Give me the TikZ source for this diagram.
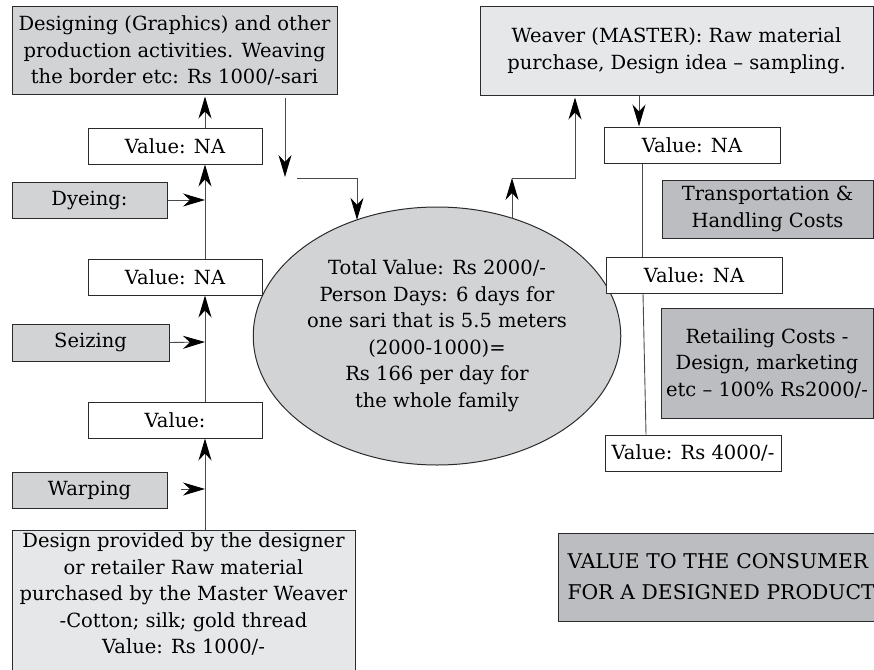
\documentclass[tikz,border=0pt]{standalone}
\usepackage{fontspec}
\setmainfont{DejaVu Serif}
\usetikzlibrary{arrows.meta,shapes.geometric}
\definecolor{boxline}{HTML}{2B2B2B}
\definecolor{connc}{HTML}{4A4A4A}
\definecolor{gmid}{HTML}{D2D3D5}
\definecolor{glight}{HTML}{E6E7E8}
\definecolor{gdark}{HTML}{BCBDC0}
\begin{document}
\begin{tikzpicture}[x=1pt,y=-1pt,
  font=\fontsize{19.5}{26.5}\selectfont,
  box/.style={draw=boxline, line width=1pt, inner sep=0pt, align=center, text=black},
  vbox/.style={box, fill=white, minimum width=174pt, minimum height=36pt},
  midbox/.style={box, fill=gmid},
  lightbox/.style={box, fill=glight},
  darkbox/.style={box, fill=gdark},
  conn/.style={draw=connc, line width=0.9pt},
  arr/.style={conn, -{Stealth[length=22pt,width=13pt,inset=7pt,color=black]}}
]
\useasboundingbox (0,0) rectangle (874,669);
\clip (0,0) rectangle (874,669);

% left column
\node[midbox, minimum width=325pt, minimum height=87pt] (design) at (174.5,50.5)
  {Designing (Graphics) and other\\production activities. Weaving\\the border etc: Rs 1000/-sari};
\node[vbox] (vna1) at (175,146) {Value: NA};
\node[midbox, minimum width=155pt, minimum height=36pt] (dye) at (89.5,200) {Dyeing:};
\node[vbox] (vna2) at (175,277) {Value: NA};
\node[midbox, minimum width=157pt, minimum height=37pt] (seiz) at (90.5,342.5) {Seizing};
\node[vbox] (val) at (175,420) {Value:};
\node[midbox, minimum width=155pt, minimum height=36pt] (warp) at (89.5,490) {Warping};
\draw[draw=boxline, line width=1pt, fill=glight] (12,530) rectangle (355,700);
\node[align=center, inner sep=0pt, text=black] (raw) at (183.5,594)
  {Design provided by the designer\\or retailer Raw material\\purchased by the Master Weaver\\-Cotton; silk; gold thread\\Value: Rs 1000/-};
\coordinate (rawtop) at (205,530);

% ellipse
\node[ellipse, draw=boxline, line width=1pt, fill=gmid, minimum width=320pt, minimum height=258pt, inner sep=0pt, align=center, text=black] (ell) at (437,336)
  {Total Value: Rs 2000/-\\Person Days: 6 days for\\one sari that is 5.5 meters\\(2000-1000)=\\Rs 166 per day for\\the whole family};

% right column
\node[lightbox, minimum width=393pt, minimum height=88pt] (weaver) at (676.5,51)
  {Weaver (MASTER): Raw material\\purchase, Design idea -- sampling.};
\node[vbox, minimum width=176pt] (vnar1) at (692,145) {Value: NA};
\node[darkbox, minimum width=211pt, minimum height=58pt] (trans) at (767.5,209)
  {Transportation \&\\Handling Costs};
\node[vbox, minimum width=176pt] (vnar2) at (694,275) {Value: NA};
\node[darkbox, minimum width=212pt, minimum height=110pt] (retail) at (767,363)
  {Retailing Costs -\\Design, marketing\\etc -- 100\% Rs2000/-};
\node[vbox, minimum width=176pt] (v4000) at (693,453) {Value: Rs 4000/-};
\node[darkbox, minimum height=88pt, inner xsep=9pt, text width=330pt, align=left, anchor=west,
  font=\fontsize{20.3}{31}\selectfont] (cons) at (558,577)
  {VALUE TO THE CONSUMER\\FOR A DESIGNED PRODUCT};

% left connectors
\coordinate (j1) at (205,200);
\coordinate (j2) at (205,342);
\coordinate (j3) at (205,489);
\draw[arr] (dye.east) -- (j1);
\draw[arr] (seiz.east) -- (j2);
\draw[arr, shorten <=13pt] (warp.east |- j3) -- (j3);
\draw[arr] (rawtop) -- (val.south -| j3);
\draw[arr] (val.north -| j2) -- (vna2.south -| j2);
\draw[arr] (vna2.north -| j1) -- (vna1.south -| j1);
\draw[arr, shorten >=2pt] (vna1.north -| j1) -- (design.south -| j1);

% design to ellipse
\coordinate (d1) at (285,177);
\coordinate (d2) at (297,178);
\coordinate (d3) at (357,178);
\draw[arr, shorten <=3pt] (design.south -| d1) -- (d1);
\draw[arr] (d2) -- (d3) -- (d3 |- ell.125.5);

% ellipse to weaver
\coordinate (u1) at (512,178);
\coordinate (u2) at (575,178);
\draw[arr] (u1 |- ell.56.7) -- (u1);
\draw[arr, shorten >=2pt] (u1) -- (u2) -- (u2 |- weaver.south);

% right connectors
\coordinate (r1) at (639,110);
\coordinate (r2) at (642,200);
\coordinate (r3) at (643,300);
\coordinate (r4) at (646,430);
\draw[arr] (weaver.south -| r1) -- (vnar1.north -| r1);
\draw[conn] (vnar1.south -| r2) -- (vnar2.north -| r2);
\draw[conn] (vnar2.south -| r3) -- (v4000.north -| r4);
\end{tikzpicture}
\end{document}
